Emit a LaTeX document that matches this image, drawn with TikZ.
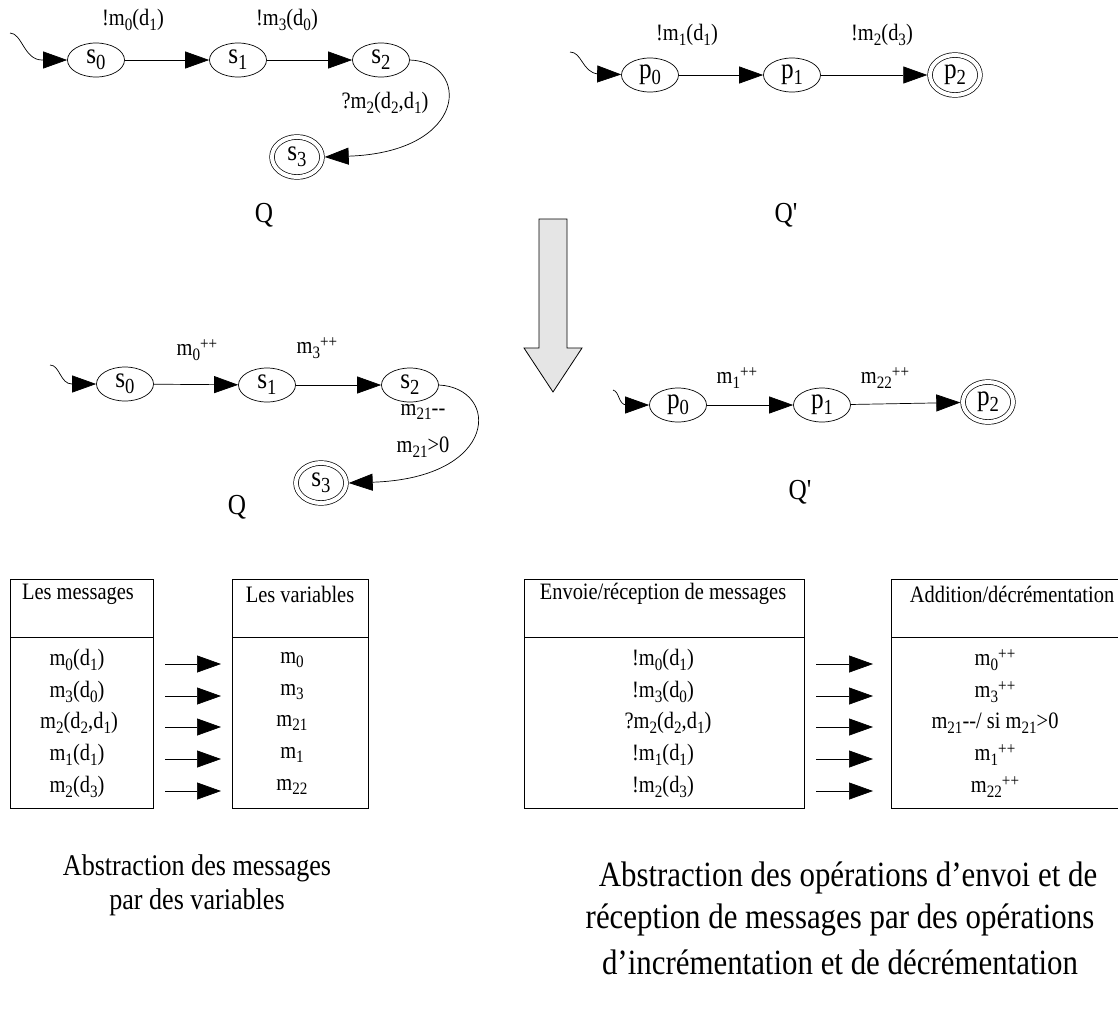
\documentclass[tikz,border=0pt]{standalone}
\usepackage{fontspec}
\setmainfont{Liberation Serif}[Ligatures=TeXOff, FakeStretch=0.87]
\usetikzlibrary{arrows.meta,shapes.geometric}
\newcommand\sbs[1]{\raisebox{-0.45ex}{\scalebox{0.74}{#1}}}
\newcommand\sps[1]{\raisebox{0.55ex}{\scalebox{0.74}{#1}}}
\newcommand\dm{-\kern0pt-}
\begin{document}
\begin{tikzpicture}[x=1pt,y=-1pt,
  lbl/.style={font=\fontsize{23.5}{27}\selectfont, inner sep=0pt},
  qtxt/.style={font=\fontsize{29}{32}\selectfont, inner sep=0pt},
  captl/.style={font=\fontsize{30}{34}\selectfont, inner sep=0pt},
  captr/.style={font=\fontsize{35.5}{42}\selectfont, inner sep=0pt},
  stt/.style={ellipse, draw, line width=0.7pt, minimum width=57pt, minimum height=34pt, inner sep=0pt, font=\fontsize{29}{30}\selectfont},
  fstt/.style={ellipse, draw, line width=0.7pt, double, double distance=4pt, minimum width=50pt, minimum height=40pt, inner sep=0pt, outer sep=2.7pt, font=\fontsize{29}{30}\selectfont},
  arr/.style={line width=0.7pt, -{Triangle[length=24pt,width=17pt]}},
  tbl/.style={draw, line width=0.8pt},
]
\useasboundingbox (0,0) rectangle (1118,1010);

% ---------- top left automaton Q ----------
\node[stt] (s0) at (96,60) {s\sbs{0}};
\node[stt] (s1) at (238,60) {s\sbs{1}};
\node[stt] (s2) at (381,60) {s\sbs{2}};
\node[fstt] (s3) at (297,157) {s\sbs{3}};
\coordinate (i1) at (10,33);
\draw[arr] (i1) .. controls (22,33) and (24,60) .. (42,60) -- (s0);
\draw[arr] (s0) -- (s1);
\draw[arr] (s1) -- (s2);
\draw[arr] (s2.east) .. controls (470,62) and (470,152) .. (s3.east);
\node[lbl] (l1) at (133,20) {!m\sbs{0}(d\sbs{1})};
\node[lbl] (l2) at (287,20) {!m\sbs{3}(d\sbs{0})};
\node[lbl] (l3) at (385,103) {?m\sbs{2}(d\sbs{2},d\sbs{1})};
\node[qtxt] (q1) at (264,215) {Q};

% ---------- top right automaton Q' ----------
\node[stt] (p0) at (650,75) {p\sbs{0}};
\node[stt] (p1) at (792,75) {p\sbs{1}};
\node[fstt] (p2) at (955,75) {p\sbs{2}};
\coordinate (i2) at (570,52);
\draw[arr] (i2) .. controls (582,52) and (582,72) .. (598,74) -- (p0);
\draw[arr] (p0) -- (p1);
\draw[arr] (p1) -- (p2);
\node[lbl] (l4) at (687,35) {!m\sbs{1}(d\sbs{1})};
\node[lbl] (l5) at (882,35) {!m\sbs{2}(d\sbs{3})};
\node[qtxt] (q2) at (786,215) {Q'};

% ---------- big arrow ----------
\draw[line width=0.8pt, fill=black!10] (539,219) -- (567,219) -- (567,348) -- (582,348) -- (553,392) -- (524,348) -- (539,348) -- cycle;

% ---------- middle left automaton ----------
\node[stt] (t0) at (125,384) {s\sbs{0}};
\node[stt] (t1) at (267,385) {s\sbs{1}};
\node[stt] (t2) at (410,385) {s\sbs{2}};
\node[fstt] (t3) at (321,483) {s\sbs{3}};
\coordinate (i3) at (50,365);
\draw[arr] (i3) .. controls (60,365) and (60,384) .. (72,384) -- (t0);
\draw[arr] (t0) -- (t1);
\draw[arr] (t1) -- (t2);
\draw[arr] (t2.east) .. controls (500,388) and (500,478) .. (t3.east);
\node[lbl] (l6) at (197,350) {m\sbs{0}\sps{++}};
\node[lbl] (l7) at (317,348) {m\sbs{3}\sps{++}};
\node[lbl] (l8) at (423,412) {m\sbs{21}\dm};
\node[lbl] (l9) at (423,447) {m\sbs{21}>0};
\node[qtxt] (q3) at (237,507) {Q};

% ---------- middle right automaton ----------
\node[stt] (u0) at (678,405) {p\sbs{0}};
\node[stt] (u1) at (822,405) {p\sbs{1}};
\node[fstt] (u2) at (988,402) {p\sbs{2}};
\coordinate (i4) at (613,390);
\draw[arr] (i4) .. controls (620,392) and (618,405) .. (627,405) -- (u0);
\draw[arr] (u0) -- (u1);
\draw[arr] (u1) -- (u2);
\node[lbl] (l10) at (737,378) {m\sbs{1}\sps{++}};
\node[lbl] (l11) at (885,378) {m\sbs{22}\sps{++}};
\node[qtxt] (q4) at (800,492) {Q'};

% ---------- tables ----------
\draw[tbl] (10,579) rectangle (153,808);  \draw[tbl] (10,637) -- (153,637);
\draw[tbl] (232,579) rectangle (368,808); \draw[tbl] (232,637) -- (368,637);
\draw[tbl] (524,579) rectangle (804,808); \draw[tbl] (524,637) -- (804,637);
\draw[tbl] (891,579) rectangle (1140,808); \draw[tbl] (891,637) -- (1140,637);

\node[lbl] (h1) at (78,594) {Les messages};
\node[lbl] (h2) at (300,594) {Les variables};
\node[lbl] (h3) at (663,594) {Envoie/réception de messages};
\node[lbl] (h4) at (1012,594) {Addition/décrémentation};

\node[lbl] (a1) at (77,660) {m\sbs{0}(d\sbs{1})};
\node[lbl] (a2) at (77,692) {m\sbs{3}(d\sbs{0})};
\node[lbl] (a3) at (79,723) {m\sbs{2}(d\sbs{2},d\sbs{1})};
\node[lbl] (a4) at (77,755) {m\sbs{1}(d\sbs{1})};
\node[lbl] (a5) at (77,787) {m\sbs{2}(d\sbs{3})};

\node[lbl] (b1) at (292,660) {m\sbs{0}};
\node[lbl] (b2) at (292,692) {m\sbs{3}};
\node[lbl] (b3) at (292,723) {m\sbs{21}};
\node[lbl] (b4) at (292,755) {m\sbs{1}};
\node[lbl] (b5) at (292,787) {m\sbs{22}};

\node[lbl] (c1) at (663,660) {!m\sbs{0}(d\sbs{1})};
\node[lbl] (c2) at (663,692) {!m\sbs{3}(d\sbs{0})};
\node[lbl] (c3) at (668,723) {?m\sbs{2}(d\sbs{2},d\sbs{1})};
\node[lbl] (c4) at (663,755) {!m\sbs{1}(d\sbs{1})};
\node[lbl] (c5) at (663,787) {!m\sbs{2}(d\sbs{3})};

\node[lbl] (e1) at (995,660) {m\sbs{0}\sps{++}};
\node[lbl] (e2) at (995,692) {m\sbs{3}\sps{++}};
\node[lbl] (e3) at (995,723) {m\sbs{21}\dm/ si m\sbs{21}>0};
\node[lbl] (e4) at (995,755) {m\sbs{1}\sps{++}};
\node[lbl] (e5) at (995,787) {m\sbs{22}\sps{++}};

\foreach \y [count=\i] in {664,696,727,759,791} {
  \coordinate (ls\i) at (165,\y); \coordinate (le\i) at (221,\y);
  \draw[arr] (ls\i) -- (le\i);
  \coordinate (rs\i) at (816,\y); \coordinate (re\i) at (873,\y);
  \draw[arr] (rs\i) -- (re\i);
}

% ---------- captions ----------
\node[captl] (k1) at (197,868) {Abstraction des messages};
\node[captl] (k2) at (197,902) {par des variables};
\node[captr] (k3) at (848,878) {Abstraction des opérations d’envoi et de};
\node[captr] (k4) at (840,920) {réception de messages par des opérations};
\node[captr] (k5) at (840,962) {d’incrémentation et de décrémentation};
\end{tikzpicture}
\end{document}
